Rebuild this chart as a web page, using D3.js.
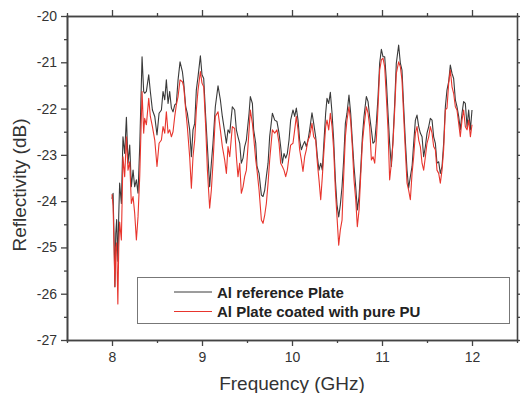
<!DOCTYPE html>
<html>
<head>
<meta charset="utf-8">
<script src="https://cdn.jsdelivr.net/npm/d3@7/dist/d3.min.js"></script>
<style>
  body { margin: 0; background: #fff; }
  text { font-family: "Liberation Sans", Arial, sans-serif; }
</style>
</head>
<body>
<div id="chart"></div>
<script>
var w = 520;
var h = 393;

// frequency (GHz)
var freq = [8.000, 8.012, 8.025, 8.032, 8.042, 8.052, 8.065, 8.075, 8.085, 8.104, 8.122, 8.141, 8.160, 8.178, 8.197, 8.215, 8.234, 8.252, 8.271, 8.289,
  8.308, 8.334, 8.352, 8.363, 8.382, 8.408, 8.426, 8.449, 8.475, 8.500, 8.523, 8.549, 8.567, 8.586, 8.604, 8.623, 8.641, 8.660, 8.678, 8.697,
  8.715, 8.734, 8.756, 8.782, 8.797, 8.819, 8.837, 8.863, 8.882, 8.900, 8.919, 8.937, 8.956, 8.982, 9.000, 9.019, 9.041, 9.060, 9.085, 9.104,
  9.122, 9.148, 9.178, 9.204, 9.226, 9.252, 9.271, 9.289, 9.308, 9.337, 9.363, 9.382, 9.400, 9.419, 9.437, 9.456, 9.474, 9.493, 9.523, 9.537,
  9.560, 9.574, 9.597, 9.611, 9.634, 9.660, 9.678, 9.697, 9.715, 9.734, 9.752, 9.782, 9.808, 9.833, 9.856, 9.874, 9.893, 9.911, 9.930, 9.948,
  9.967, 9.985, 10.011, 10.030, 10.048, 10.067, 10.085, 10.104, 10.122, 10.141, 10.159, 10.178, 10.196, 10.222, 10.241, 10.263, 10.282, 10.300, 10.319, 10.337,
  10.356, 10.374, 10.389, 10.408, 10.426, 10.445, 10.463, 10.482, 10.500, 10.519, 10.537, 10.556, 10.574, 10.593, 10.611, 10.633, 10.652, 10.670, 10.689, 10.708,
  10.726, 10.745, 10.763, 10.782, 10.800, 10.826, 10.845, 10.863, 10.882, 10.900, 10.919, 10.937, 10.956, 10.974, 10.993, 11.011, 11.030, 11.048, 11.067, 11.085,
  11.104, 11.122, 11.141, 11.159, 11.185, 11.204, 11.222, 11.241, 11.259, 11.278, 11.296, 11.315, 11.334, 11.352, 11.371, 11.389, 11.408, 11.426, 11.445, 11.463,
  11.482, 11.500, 11.519, 11.537, 11.556, 11.574, 11.593, 11.611, 11.630, 11.648, 11.667, 11.685, 11.704, 11.722, 11.741, 11.759, 11.778, 11.796, 11.815, 11.833,
  11.852, 11.870, 11.889, 11.907, 11.926, 11.945, 11.963, 11.982, 12.000];

// Al reference plate (dB)
var alRef = [-23.95, -23.83, -25.00, -25.85, -24.70, -24.40, -25.30, -24.30, -23.61, -24.05, -22.61, -22.97, -22.19, -23.18, -22.79, -23.69, -23.33, -23.69, -23.54, -23.83,
  -22.82, -20.88, -21.63, -21.67, -21.63, -21.27, -21.63, -22.03, -22.17, -22.57, -22.10, -22.03, -21.63, -21.81, -21.38, -21.89, -21.63, -21.99, -22.07, -21.92,
  -21.89, -21.38, -20.99, -21.20, -21.45, -21.96, -22.10, -22.46, -23.04, -22.46, -22.32, -21.60, -21.31, -20.86, -21.27, -21.35, -22.17, -22.82, -23.69, -23.18,
  -22.75, -21.96, -21.51, -21.81, -22.17, -22.50, -22.75, -22.46, -22.53, -21.96, -22.03, -22.46, -22.61, -22.75, -23.18, -23.07, -22.82, -22.68, -22.10, -21.74,
  -21.89, -22.46, -22.75, -23.25, -23.40, -23.87, -23.90, -23.76, -23.47, -23.18, -22.60, -22.10, -22.25, -22.28, -22.53, -22.82, -23.18, -22.97, -23.07, -22.97,
  -22.68, -22.25, -22.03, -22.17, -21.99, -22.25, -22.68, -22.89, -22.79, -22.71, -22.82, -22.68, -22.46, -22.09, -22.32, -22.61, -23.04, -23.33, -23.18, -23.33,
  -22.68, -22.10, -21.78, -21.89, -21.65, -22.10, -22.68, -23.54, -24.08, -24.34, -24.08, -23.69, -23.11, -22.32, -22.10, -21.71, -22.10, -22.68, -23.25, -23.69,
  -24.19, -23.90, -23.33, -22.61, -22.17, -21.74, -21.85, -22.17, -22.46, -22.75, -22.71, -22.32, -21.74, -21.02, -20.72, -20.88, -20.88, -21.38, -22.10, -22.75,
  -23.25, -22.68, -21.89, -21.02, -20.63, -21.02, -21.17, -21.96, -22.68, -23.33, -23.72, -23.47, -23.25, -22.75, -22.25, -22.14, -22.39, -22.53, -22.61, -23.04,
  -22.82, -22.53, -22.39, -22.21, -22.25, -22.61, -22.75, -23.18, -23.15, -23.40, -23.25, -22.75, -21.96, -21.60, -21.42, -21.06, -21.24, -21.35, -21.81, -21.96,
  -22.17, -22.46, -22.10, -21.85, -21.89, -22.39, -22.03, -22.46, -22.03];

// Al plate coated with pure PU (dB)
var alPU = [-23.85, -24.10, -25.20, -25.85, -25.00, -24.90, -26.22, -25.00, -24.45, -24.84, -23.04, -23.47, -22.61, -23.33, -23.15, -24.05, -23.90, -24.26, -24.84, -24.34,
  -23.47, -21.63, -22.53, -22.21, -22.35, -21.78, -22.17, -22.39, -22.68, -23.25, -22.75, -22.68, -22.39, -22.53, -22.07, -22.53, -22.46, -22.61, -22.50, -22.17,
  -21.92, -21.74, -21.38, -21.42, -21.53, -22.03, -22.39, -23.04, -23.72, -23.04, -22.68, -22.03, -21.60, -21.20, -21.45, -21.53, -22.39, -23.33, -24.15, -23.76,
  -23.18, -22.17, -22.07, -22.46, -22.82, -23.11, -23.40, -22.82, -23.04, -22.39, -22.43, -23.04, -23.47, -23.18, -23.83, -23.69, -23.47, -23.33, -22.46, -22.03,
  -22.32, -22.61, -23.11, -23.33, -23.76, -24.41, -24.48, -24.30, -24.05, -23.61, -23.11, -22.46, -22.53, -22.46, -22.75, -23.18, -23.25, -23.33, -23.47, -23.33,
  -23.04, -22.79, -22.75, -22.46, -22.17, -22.46, -22.89, -23.11, -23.36, -23.04, -22.89, -22.68, -22.61, -22.32, -22.61, -22.68, -23.18, -23.54, -23.97, -23.47,
  -22.89, -22.39, -22.25, -22.46, -22.10, -22.39, -22.89, -23.76, -24.34, -24.95, -24.62, -24.41, -23.47, -22.61, -22.25, -21.96, -22.28, -22.82, -23.54, -23.97,
  -24.55, -24.19, -23.47, -22.75, -22.39, -21.96, -22.10, -22.39, -23.11, -23.04, -23.18, -22.68, -21.96, -21.17, -20.95, -20.91, -21.10, -21.74, -22.46, -23.54,
  -23.18, -22.75, -22.03, -21.24, -20.99, -21.10, -21.38, -22.17, -22.89, -23.61, -23.76, -23.97, -23.40, -23.04, -22.53, -22.39, -22.68, -22.82, -23.18, -23.33,
  -23.04, -22.75, -22.61, -22.39, -22.53, -22.82, -22.89, -23.33, -23.40, -23.61, -23.33, -22.89, -22.03, -21.99, -21.45, -21.17, -21.53, -21.67, -21.96, -22.03,
  -22.32, -22.61, -22.25, -22.03, -22.39, -22.46, -22.25, -22.61, -22.35];

var xTicks = [8, 9, 10, 11, 12];
var xMinor = [7.5, 8.5, 9.5, 10.5, 11.5, 12.5];
var yTicks = [-27, -26, -25, -24, -23, -22, -21, -20];
var yMinor = [-26.5, -25.5, -24.5, -23.5, -22.5, -21.5, -20.5];
var seriesNames = ["Al reference Plate", "Al Plate coated with pure PU"];
var seriesColors = ["#3a3a3a", "#e8352d"];

var x = d3.scaleLinear().domain([7.5, 12.5]).range([67, 517]);
var y = d3.scaleLinear().domain([-27, -20]).range([340, 16]);

// plain hyphen for negatives, like the original
var plain = function(d) { return String(d); };

var svg = d3.select("#chart")
            .append("svg")
            .attr("width", w)
            .attr("height", h);

// frame with ticks on all sides
function styleAxis(g) {
  g.selectAll("path").attr("stroke", "#444").attr("stroke-width", 1.6);
  g.selectAll("line").attr("stroke", "#444").attr("stroke-width", 1.3);
  g.selectAll("text").attr("fill", "#333").style("font-size", "14px");
}

svg.append("g")
   .attr("transform", "translate(0,340)")
   .call(d3.axisBottom(x).tickValues(xTicks).tickSize(6).tickSizeOuter(0).tickPadding(6).tickFormat(plain))
   .call(styleAxis);
svg.append("g")
   .attr("transform", "translate(0,340)")
   .call(d3.axisBottom(x).tickValues(xMinor).tickSize(3).tickSizeOuter(0).tickFormat(""))
   .call(styleAxis);
svg.append("g")
   .attr("transform", "translate(0,16)")
   .call(d3.axisTop(x).tickValues(xTicks).tickSize(6).tickSizeOuter(0).tickFormat(""))
   .call(styleAxis);
svg.append("g")
   .attr("transform", "translate(0,16)")
   .call(d3.axisTop(x).tickValues(xMinor).tickSize(3).tickSizeOuter(0).tickFormat(""))
   .call(styleAxis);
svg.append("g")
   .attr("transform", "translate(67,0)")
   .call(d3.axisLeft(y).tickValues(yTicks).tickSize(6).tickSizeOuter(0).tickPadding(4).tickFormat(plain))
   .call(styleAxis);
svg.append("g")
   .attr("transform", "translate(67,0)")
   .call(d3.axisLeft(y).tickValues(yMinor).tickSize(3).tickSizeOuter(0).tickFormat(""))
   .call(styleAxis);
svg.append("g")
   .attr("transform", "translate(517,0)")
   .call(d3.axisRight(y).tickValues(yTicks.concat(yMinor)).tickSize(4).tickSizeOuter(0).tickFormat(""))
   .call(styleAxis);

svg.selectAll(".domain").attr("stroke-linecap", "square");

// the two curves
var line = d3.line()
             .x(function(d) { return x(d[0]); })
             .y(function(d) { return y(d[1]); });

var series = [alRef, alPU];
series.forEach(function(vals, i) {
  svg.append("path")
     .datum(freq.map(function(f, j) { return [f, vals[j]]; }))
     .attr("d", line)
     .attr("fill", "none")
     .attr("stroke", seriesColors[i])
     .attr("stroke-width", 1.1)
     .attr("stroke-linejoin", "round");
});

// legend
var legend = svg.append("g");
legend.append("rect")
      .attr("x", 137.5).attr("y", 277.5)
      .attr("width", 372).attr("height", 46)
      .attr("fill", "#fff")
      .attr("stroke", "#777")
      .attr("stroke-width", 1);

seriesNames.forEach(function(name, i) {
  var ly = 292 + i * 19.5;
  legend.append("line")
        .attr("x1", 174).attr("x2", 212)
        .attr("y1", ly).attr("y2", ly)
        .attr("stroke", seriesColors[i])
        .attr("stroke-width", 1);
  legend.append("text")
        .attr("x", 217).attr("y", ly + 5.5)
        .attr("fill", "#222")
        .style("font-size", "15px")
        .style("font-weight", "bold")
        .text(name);
});

// axis titles
svg.append("text")
   .attr("x", 292).attr("y", 390)
   .attr("text-anchor", "middle")
   .attr("fill", "#333")
   .style("font-size", "19px")
   .text("Frequency (GHz)");

svg.append("text")
   .attr("transform", "translate(26,185) rotate(-90)")
   .attr("text-anchor", "middle")
   .attr("fill", "#333")
   .style("font-size", "19px")
   .text("Reflectivity (dB)");
</script>
</body>
</html>
